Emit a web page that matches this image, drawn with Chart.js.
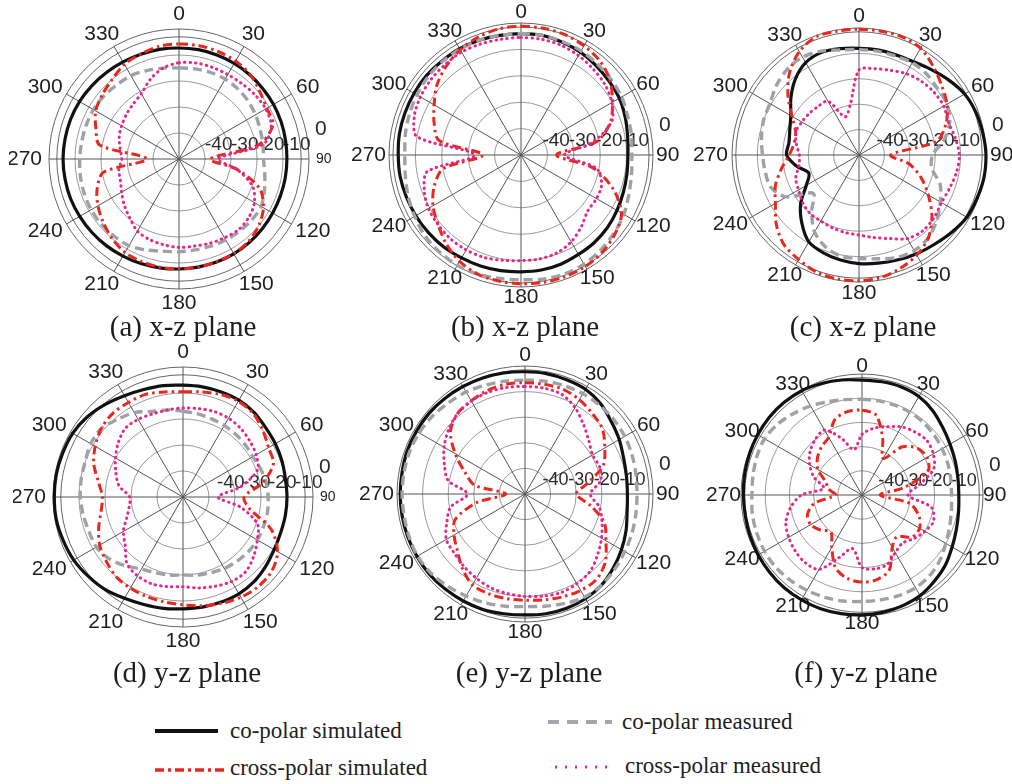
<!DOCTYPE html>
<html>
<head>
<meta charset="utf-8">
<script src="https://cdn.jsdelivr.net/npm/chart.js@4.4.1/dist/chart.umd.min.js"></script>
<style>
  body { margin: 0; background: #fff; }
  #page { position: relative; width: 1012px; height: 784px; overflow: hidden; }
  canvas.polar { position: absolute; }
  .cap { position: absolute; font-family: "Liberation Serif", "Times New Roman", serif; font-size: 29px; color: #1e1e1e; white-space: nowrap; transform: translate(-50%, -50%); }
  .leg { position: absolute; font-family: "Liberation Serif", "Times New Roman", serif; font-size: 23px; color: #1e1e1e; white-space: nowrap; transform: translateY(-50%); }
  #legendLines { position: absolute; left: 0; top: 0; }
</style>
</head>
<body>
<div id="page">
  <svg id="legendLines" width="1012" height="784">
    <line x1="155" y1="731" x2="218" y2="731" stroke="#111" stroke-width="4"/>
    <line x1="155" y1="770" x2="228" y2="770" stroke="#e8281f" stroke-width="3.5" stroke-dasharray="9 4 3 4"/>
    <line x1="548" y1="722" x2="612" y2="722" stroke="#a3a7ab" stroke-width="4" stroke-dasharray="11 8"/>
    <line x1="555" y1="767" x2="610" y2="767" stroke="#e5268c" stroke-width="3" stroke-dasharray="2 8"/>
  </svg>
  <div class="leg" style="left:230px; top:731px;">co-polar simulated</div>
  <div class="leg" style="left:230px; top:768px;">cross-polar simulated</div>
  <div class="leg" style="left:622px; top:722px;">co-polar measured</div>
  <div class="leg" style="left:625px; top:766px;">cross-polar measured</div>
</div>
<script>
// angle of every sample (deg), clockwise from the top
const angles = [0, 10, 20, 30, 40, 50, 60, 70, 80, 90, 100, 110, 120, 130, 140, 150, 160, 170,
  180, 190, 200, 210, 220, 230, 240, 250, 260, 270, 280, 290, 300, 310, 320, 330, 340, 350];
const angleTicks = [0, 30, 60, 90, 120, 150, 180, 210, 240, 270, 300, 330];
const ringTicks = [-40, -30, -20, -10, 0];
const captions = ['(a) x-z plane', '(b) x-z plane', '(c) x-z plane', '(d) y-z plane', '(e) y-z plane', '(f) y-z plane'];

// normalised gain in dB, one value per angle
const coSimA = [-7.3, -7.3, -7.4, -7.5, -7.7, -7.9, -8.0, -8.2, -8.4, -8.5, -8.5, -8.5, -8.4, -8.2, -8.0, -7.9, -7.8, -7.8, -7.7, -7.5, -7.2, -6.9, -6.5, -6.2, -5.9, -5.6, -5.5, -5.4, -5.5, -5.6, -5.8, -6.2, -6.6, -6.9, -7.1, -7.2];
const crossSimA = [-5.75, -5.75, -6, -6.5, -7.5, -9.5, -11, -11.5, -19, -38, -27.5, -17, -12.5, -10, -8.5, -8, -8, -7.75, -7.75, -7.75, -8, -8.5, -10, -12, -14, -16.5, -20.5, -37.5, -19, -16, -13, -11.5, -10, -8, -7, -6];
const coMeasA = [-15, -14.8, -14.6, -14.5, -14.8, -15.3, -16, -16.8, -17.2, -17.5, -16.5, -15, -13.5, -13.5, -13.8, -14, -14.3, -14.5, -14.3, -14, -12.8, -11.5, -11.2, -11, -11, -11.2, -11.5, -11.8, -12, -12, -12, -12.3, -12.8, -13, -13.8, -14.5];
const crossMeasA = [-13, -12.5, -12.5, -12.5, -12.25, -11.75, -11.5, -12.25, -17, -35, -27.5, -20, -16.5, -15, -14.5, -15, -15.5, -16, -16, -16.5, -17, -18, -20.5, -22.5, -24.5, -26, -26.5, -28, -27, -25.5, -24.5, -23.5, -22.5, -21, -17.5, -14.5];

const coSimB = [-4, -4, -4.5, -5, -5.75, -6.5, -7, -8, -9, -9.5, -9.25, -8.75, -8, -7.25, -6.75, -6.5, -6, -5.75, -5.75, -5.5, -5.25, -5, -4.5, -4.25, -4, -3.75, -3.5, -3.5, -3.25, -3.25, -3.25, -3.25, -3.5, -3.5, -3.75, -4];
const crossSimB = [-1.25, -1.25, -1.5, -2.25, -3.5, -6, -10, -14, -21, -36.5, -22.5, -13, -6, -3.5, -2, -1.25, -1, -1, -1.25, -1.5, -2, -3.5, -6, -9, -11.5, -15, -20, -35.5, -18.5, -15, -12, -8.5, -6, -4, -2.5, -1.5];
const coMeasB = [-4, -4, -4.25, -4.5, -5, -5.5, -6, -7, -7.5, -8, -7.5, -6.5, -5, -4, -3, -2.25, -2, -2.25, -2.75, -2.5, -2, -1.75, -2, -2.5, -3.5, -4.5, -5.5, -6, -5.5, -5, -4.5, -4, -3.75, -3.75, -3.75, -4];
const crossMeasB = [-5.5, -5.5, -5.75, -6.5, -7.5, -8.5, -10.25, -13.5, -22.5, -33.5, -21, -17.5, -17, -17, -14.5, -12, -10.5, -10, -10, -9.5, -8.75, -8.5, -8.5, -9, -9.5, -11, -14, -32.5, -10, -7, -6, -5.5, -5.25, -5, -5.25, -5.5];

const coSimC = [-8, -8, -8, -7.5, -6, -4, -2, -1, -0.5, 0, 0, -0.5, -1, -2.5, -4, -5, -6, -6.75, -7.25, -8, -9, -10.5, -15, -20, -26, -29, -25, -21.5, -22, -21, -19, -15, -11, -8, -7, -7.5];
const crossSimC = [-0.5, -0.5, -0.5, -1.5, -4.5, -7.5, -10, -13.5, -19, -37.5, -30, -24, -18.5, -12.5, -7.5, -4.5, -2.5, -1, -0.5, -0.5, -1, -2.5, -4, -7.5, -12, -15, -19, -22.5, -24, -23.5, -19.5, -13.5, -7.5, -3, -0.5, -0.5];
const coMeasC = [-8.5, -8.5, -8.5, -8, -8.5, -9.5, -10, -12, -16, -21, -21, -16, -13, -10, -7.5, -6.5, -7, -8.5, -9.25, -9.5, -11.5, -15, -21, -26.5, -17, -13, -12.5, -12, -11, -10, -9.5, -7.5, -6, -5.5, -6.5, -8];
const crossMeasC = [-16.5, -15.5, -14.5, -13, -12, -11.5, -11.5, -12.5, -11.5, -10.5, -11, -12, -12.5, -11.5, -11, -12, -15, -17, -18.5, -19, -19.5, -20, -20, -21, -22.5, -23.5, -26, -26.5, -25, -23.5, -24, -24.5, -25, -25.5, -34, -30];

const coSimD = [-7, -7, -7, -7, -7.5, -8.5, -9, -9.5, -10, -10, -10, -10, -9.5, -8.5, -7.5, -7, -7, -7, -7, -6.5, -6, -5, -3.5, -2.5, -1.5, -1, -0.5, -0.5, -0.5, -0.75, -1, -2, -3.5, -5, -6, -6.5];
const crossSimD = [-9.5, -9, -8, -7.5, -8, -10, -12, -13, -19, -26.5, -24, -14, -8, -5.5, -5, -5.5, -6.5, -7.5, -8.5, -9, -9.25, -9.5, -10, -11.5, -13, -15.5, -18, -19, -17, -13.5, -11, -9, -8, -8, -8, -9];
const coMeasD = [-17, -17.5, -18, -18.25, -18.5, -18.75, -19, -18.25, -17.5, -17.25, -17, -17, -17, -17.25, -17.75, -18.25, -19, -19.5, -20, -19.5, -19, -18, -15.5, -13, -11.5, -11.5, -11, -10.5, -10.25, -10, -9, -9, -11, -12.5, -15, -16];
const crossMeasD = [-15.75, -15.5, -15, -15, -15.5, -16.5, -17.5, -19.5, -27.5, -36.5, -27.5, -19.5, -17, -14.5, -12.5, -12.5, -13.5, -14.5, -15.5, -15, -14.5, -15, -16.5, -21, -23.5, -27, -29, -29.5, -25, -22.5, -20, -17.5, -15.5, -15.5, -16, -16];

const coSimE = [-2.25, -2.25, -2.5, -2.75, -4, -6, -7.5, -9, -9.75, -10, -9.5, -8, -6.5, -5, -3.5, -2.75, -2.5, -2.5, -2.75, -2.5, -2, -1.75, -1.5, -1.25, -1.25, -1.25, -1.25, -1.25, -1.25, -1, -1, -1, -1.25, -1.5, -1.75, -2];
const crossSimE = [-6.5, -6.5, -6.5, -7.5, -9, -10.5, -14, -17.5, -25, -30, -24, -17, -13.5, -9, -6.5, -6.5, -7.25, -8, -8.5, -8.5, -8.5, -9, -12, -15.5, -18, -21, -31, -42.5, -30, -25, -18.5, -12, -9, -8, -7, -6.5];
const coMeasE = [-5.5, -5.25, -5, -4.75, -4.75, -4.75, -5, -5.5, -6, -6.25, -6, -5.5, -5, -4.25, -3.5, -3.5, -4.5, -5.5, -6, -5.5, -4.75, -4, -3, -2, -1.5, -1.75, -2, -2, -2, -2, -2.25, -2.75, -3.5, -4, -4.75, -5.25];
const crossMeasE = [-8, -8, -8.5, -11, -14.5, -17.5, -19.5, -19, -20, -24.5, -20.5, -18, -15.5, -13, -10.5, -9.5, -9, -9.5, -10, -10.5, -11, -12, -13, -14, -14.5, -17.5, -20.5, -27.5, -19.5, -16.5, -13.5, -11, -9, -8, -7.75, -7.75];

const coSimF = [-2.5, -2.5, -2.5, -3, -4.5, -6.5, -8, -9, -9.75, -10, -9.5, -8.5, -7, -5, -3.5, -2, -1.25, -0.75, -0.5, -0.25, 0, 0, 0, -0.25, -0.5, -0.75, -1, -1, -0.75, -0.5, -0.25, 0, 0, -0.25, -1, -1.75];
const crossSimF = [-15, -16.5, -25, -32.5, -24, -20, -19, -21, -32.5, -42.5, -30, -25, -22.5, -23, -27.5, -25, -17, -14.5, -14, -15, -18, -25, -30, -27.5, -25.5, -26, -30, -39, -36, -34, -29, -26, -24, -22.5, -17, -15];
const coMeasF = [-10.5, -10.5, -10.5, -10.5, -10.75, -11.25, -11.75, -12.25, -12.75, -13, -12.5, -11.5, -10, -8, -6.5, -5.75, -5.75, -6, -6, -5.5, -5, -4.5, -4, -3.5, -3.5, -3.75, -4, -4.5, -4.25, -3.75, -3.5, -4.5, -6, -7.5, -9, -10];
const crossMeasF = [-25, -22, -20, -17.5, -16, -15, -16, -18.5, -26, -31, -21, -18.5, -20, -22, -24, -22.5, -19.5, -19, -20, -27.5, -22.5, -14.5, -13.5, -14, -15, -16.5, -20, -25, -34, -29, -25, -22, -20, -19, -25, -31];

const series = [
  [coSimA, crossSimA, coMeasA, crossMeasA],
  [coSimB, crossSimB, coMeasB, crossMeasB],
  [coSimC, crossSimC, coMeasC, crossMeasC],
  [coSimD, crossSimD, coMeasD, crossMeasD],
  [coSimE, crossSimE, coMeasE, crossMeasE],
  [coSimF, crossSimF, coMeasF, crossMeasF],
];

// where each polar plot sits on the page
const panels = [
  { cx: 179, cy: 159, R: 130, gap: 7, small90: true, tickDx: 0, tickFont: 19, extra: -3 },
  { cx: 521, cy: 155, R: 132, gap: 3, small90: false, tickDx: -5, tickFont: 19, extra: -1.5 },
  { cx: 859, cy: 155, R: 127, gap: 4, small90: false, tickDx: -8, tickFont: 19, extra: -1.5 },
  { cx: 183, cy: 497, R: 130, gap: 7, small90: true, tickDx: 8, tickFont: 19, extra: -3 },
  { cx: 525, cy: 494, R: 128, gap: 3, small90: false, tickDx: -8, tickFont: 18, extra: -1.5 },
  { cx: 862, cy: 495, R: 121, gap: 0, small90: false, tickDx: -8, tickFont: 18, extra: -1.5 },
];
const captionY = [326, 326, 326, 672, 672, 672];
const SIZE = 340;

const styles = [
  { borderColor: '#111111', borderWidth: 3.2, borderDash: [] },
  { borderColor: '#e8281f', borderWidth: 3, borderDash: [9, 4, 2.5, 4] },
  { borderColor: '#9ea2a7', borderWidth: 3.4, borderDash: [9, 5] },
  { borderColor: '#e5268c', borderWidth: 3, borderDash: [0.5, 5], borderCapStyle: 'round' },
];

const FONT = '"Liberation Sans", Arial, sans-serif';

// angle labels round the rim and dB labels along the 90 spoke
const polarLabels = {
  id: 'polarLabels',
  beforeDatasetsDraw(chart, args, opts) {
    const scale = chart.scales.r;
    const ctx = chart.ctx;
    const R = scale.drawingArea;
    const cx = scale.xCenter, cy = scale.yCenter;
    ctx.save();
    ctx.fillStyle = '#1e1e1e';
    ctx.textBaseline = 'middle';
    ctx.textAlign = 'center';
    angleTicks.forEach(a => {
      const small = opts.small90 && a === 90;
      ctx.font = (small ? 14 : 21) + 'px ' + FONT;
      const txt = String(a);
      const w = ctx.measureText(txt).width;
      const h = small ? 10 : 15;
      const rad = a * Math.PI / 180;
      const pt = scale.getPointPosition(angles.indexOf(a), R + opts.gap);
      ctx.fillText(txt, pt.x + Math.sin(rad) * w / 2, pt.y - Math.cos(rad) * h / 2);
    });
    ctx.textAlign = 'left';
    ctx.fillStyle = '#2a2a2a';
    ctx.font = opts.tickFont + 'px ' + FONT;
    ringTicks.forEach(v => {
      if (v === 0) return;
      const d = scale.getDistanceFromCenterForValue(v);
      ctx.fillText(String(v), cx + d + opts.tickDx, cy - 14);
    });
    ctx.font = '21px ' + FONT;
    ctx.fillText(String(ringTicks[ringTicks.length - 1]), cx + R + 6, cy - 30);
    ctx.restore();
  }
};

const page = document.getElementById('page');

panels.forEach((p, i) => {
  const canvas = document.createElement('canvas');
  canvas.className = 'polar';
  canvas.width = SIZE;
  canvas.height = SIZE;
  canvas.style.left = (p.cx - SIZE / 2) + 'px';
  canvas.style.top = (p.cy - SIZE / 2) + 'px';
  page.appendChild(canvas);

  // first dataset ends up on top, so list them top-most first
  const order = [3, 1, 2, 0];
  const datasets = order.map(k => Object.assign({
    data: series[i][k],
    fill: false,
    pointRadius: 0,
    tension: 0.3,
  }, styles[k]));

  new Chart(canvas, {
    type: 'radar',
    data: { labels: angles, datasets: datasets },
    options: {
      responsive: false,
      animation: false,
      layout: { padding: SIZE / 2 - p.R },
      plugins: {
        legend: { display: false },
        tooltip: { enabled: false },
        polarLabels: { gap: p.gap, small90: p.small90, tickDx: p.tickDx, tickFont: p.tickFont },
      },
      scales: {
        r: {
          min: -50,
          max: 0,
          afterBuildTicks: s => {
            s.ticks = [-50, ...ringTicks.slice(0, 4), p.extra, 0].map(v => ({ value: v }));
          },
          ticks: { display: false },
          pointLabels: { display: false },
          grid: {
            circular: true,
            color: c => (c.tick && c.tick.value >= p.extra) ? '#666' : '#9a9a9a',
            lineWidth: 1,
          },
          angleLines: {
            color: '#555',
            lineWidth: c => (c.index % 3 === 0 ? 1 : 0),
          },
        },
      },
    },
    plugins: [polarLabels],
  });

  const cap = document.createElement('div');
  cap.className = 'cap';
  cap.textContent = captions[i];
  cap.style.left = (p.cx + 4) + 'px';
  cap.style.top = captionY[i] + 'px';
  page.appendChild(cap);
});
</script>
</body>
</html>
